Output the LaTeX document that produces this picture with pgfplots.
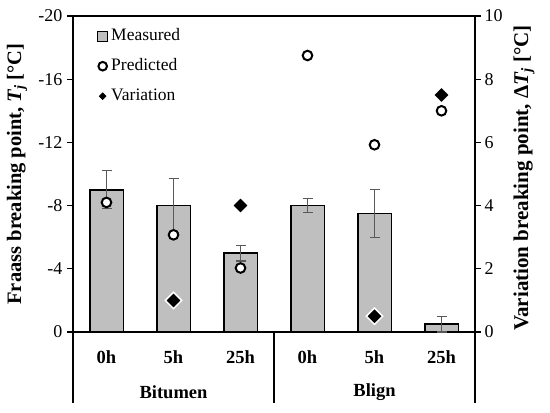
\documentclass[border=0pt]{standalone}
\usepackage{fontspec}
\setmainfont{Liberation Serif}
\usepackage{pgfplots}
\pgfplotsset{compat=1.18}
\definecolor{barg}{RGB}{191,191,191}
\definecolor{errg}{RGB}{89,89,89}
\begin{document}
\begin{tikzpicture}
\begin{axis}[
  name=main,
  scale only axis, width=402pt, height=316pt,
  xmin=-0.5, xmax=5.5, ymin=-20, ymax=0, y dir=reverse,
  clip=false,
  axis line style={line width=1.5pt},
  xtick=\empty,
  ytick={-20,-16,-12,-8,-4,0},
  yticklabels={-20,-16,-12,-8,-4,0},
  ytick pos=left, tick align=outside,
  major tick length=6pt,
  every tick/.style={black, line width=1.2pt},
  yticklabel style={font=\fontsize{18}{20}\selectfont, xshift=-1pt},
  legend style={at={(0,1)}, anchor=north west, xshift=24pt, yshift=-12pt,
    draw=none, fill=none, inner sep=0pt, row sep=14pt, column sep=3pt,
    font=\fontsize{17.5}{20}\selectfont,
    nodes={inner sep=0pt, text height=12pt, text depth=4pt}},
  legend cell align=left,
]
\addplot[ybar, bar width=33.5pt, fill=barg, draw=black, line width=1.5pt,
  legend image code/.code={\draw[fill=barg, draw=black, line width=1pt] (0.5pt,-5pt) rectangle (10.5pt,5pt);},
  error bars/.cd, y dir=both, y explicit,
  error bar style={errg, line width=1.2pt},
  error mark options={rotate=90, errg, mark size=5pt, line width=1.2pt}]
  coordinates {(0,-9) +- (0,1.2) (1,-8) +- (0,1.7) (2,-5) +- (0,0.5)
               (3,-8) +- (0,0.45) (4,-7.5) +- (0,1.5) (5,-0.5) +- (0,0.5)};
\addlegendentry{Measured}
\addplot[only marks, mark=*, mark size=4.8pt,
  mark options={fill=white, draw=black, line width=2pt},
  legend image code/.code={\draw[fill=white, line width=2pt] (5.5pt,0pt) circle (4.3pt);}]
  coordinates {(0,-8.2) (1,-6.15) (2,-4.05) (3,-17.5) (4,-11.85) (5,-14.0)};
\addlegendentry{Predicted}
\addlegendimage{legend image code/.code={\fill[black] (5.5pt,-3.5pt) -- (9pt,0pt) -- (5.5pt,3.5pt) -- (2pt,0pt) -- cycle;}}
\addlegendentry{Variation}
\end{axis}
\begin{axis}[
  scale only axis, width=402pt, height=316pt,
  xmin=-0.5, xmax=5.5, ymin=0, ymax=10,
  axis x line=none, axis y line*=right,
  axis line style={line width=1.5pt},
  ytick={0,2,4,6,8,10}, yticklabels={0,2,4,6,8,10},
  tick align=outside, major tick length=6pt,
  every tick/.style={black, line width=1.2pt},
  yticklabel style={font=\fontsize{18}{20}\selectfont},
]
\addplot[only marks, mark=square*, mark size=5.8pt,
  mark options={rotate=45, fill=black, draw=white, line width=1.5pt}]
  coordinates {(1,1) (2,4) (4,0.5) (5,7.5)};
\end{axis}
\node[font=\bfseries\fontsize{18.5}{21}\selectfont] at ([xshift=33.5pt, yshift=-25pt]main.south west) {0h};
\node[font=\bfseries\fontsize{18.5}{21}\selectfont] at ([xshift=100.5pt, yshift=-25pt]main.south west) {5h};
\node[font=\bfseries\fontsize{18.5}{21}\selectfont] at ([xshift=167.5pt, yshift=-25pt]main.south west) {25h};
\node[font=\bfseries\fontsize{18.5}{21}\selectfont] at ([xshift=234.5pt, yshift=-25pt]main.south west) {0h};
\node[font=\bfseries\fontsize{18.5}{21}\selectfont] at ([xshift=301.5pt, yshift=-25pt]main.south west) {5h};
\node[font=\bfseries\fontsize{18.5}{21}\selectfont] at ([xshift=368.5pt, yshift=-25pt]main.south west) {25h};
\node[font=\bfseries\fontsize{18.5}{21}\selectfont] at ([xshift=100.5pt, yshift=-60pt]main.south west) {Bitumen};
\node[font=\bfseries\fontsize{18.5}{21}\selectfont] at ([xshift=301.5pt, yshift=-60pt]main.south west) {Blign};
\draw[line width=1.5pt] (main.south west) -- ++(0,-71pt);
\draw[line width=1.5pt] (main.south) -- ++(0,-71pt);
\draw[line width=1.5pt] (main.south east) -- ++(0,-71pt);
\node[rotate=90, font=\bfseries\fontsize{20.5}{23}\selectfont] at ([xshift=-56pt]main.west) {Fraass breaking point, \textit{T\textsubscript{j}} [°C]};
\node[rotate=90, font=\bfseries\fontsize{21}{23}\selectfont] at ([xshift=49pt, yshift=-4pt]main.east) {Variation breaking point, Δ\textit{T\textsubscript{j}} [°C]};
\pgfresetboundingbox
\path[use as bounding box] ([shift={(-73pt,-80pt)}]main.south west) rectangle ([shift={(75pt,16pt)}]main.north east);
\end{tikzpicture}
\end{document}
